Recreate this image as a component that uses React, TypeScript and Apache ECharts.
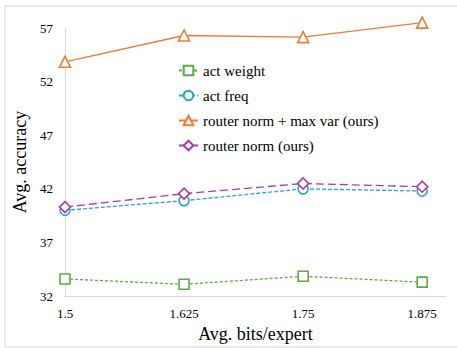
import React, { useEffect, useRef } from "react";
import * as echarts from "echarts";

const bits = [1.5, 1.625, 1.75, 1.875];
const actWeight = [33.6, 33.1, 33.85, 33.3];
const actFreq = [40.0, 40.9, 42.0, 41.8];
const routerNormMaxVar = [53.85, 56.3, 56.15, 57.5];
const routerNorm = [40.3, 41.55, 42.5, 42.2];
const seriesNames = [
  "act weight",
  "act freq",
  "router norm + max var (ours)",
  "router norm (ours)",
];

const FONT = "Liberation Serif";

export default function App() {
  const ref = useRef<HTMLDivElement>(null);
  useEffect(() => {
    document.body.style.margin = "0";
    const chart = echarts.init(ref.current!, null, { renderer: "svg" });
    const mk = (
      name: string,
      vals: number[],
      color: string,
      symbol: string,
      size: number,
      dash: any
    ) => ({
      name,
      type: "line",
      data: bits.map((b, i) => [b, vals[i]]),
      symbol,
      symbolSize: size,
      showAllSymbol: true,
      clip: false,
      lineStyle: { color, width: 1.3, type: dash },
      itemStyle: { color: "#fff", borderColor: color, borderWidth: 1.6 },
    });
    chart.setOption({
      animation: false,
      backgroundColor: "#fff",
      textStyle: { fontFamily: FONT, color: "#000" },
      graphic: [
        {
          type: "rect",
          shape: { x: 5, y: 6, width: 470, height: 341 },
          style: { fill: "none", stroke: "#d6d6d6", lineWidth: 1 },
          silent: true,
        },
      ],
      grid: { left: 65, right: 11, top: 28, bottom: 50 },
      legend: {
        orient: "vertical",
        left: 178,
        top: 63,
        padding: 0,
        itemWidth: 19,
        itemHeight: 12,
        itemGap: 10,
        textStyle: { fontFamily: FONT, fontSize: 15, color: "#000" },
        data: seriesNames,
      },
      xAxis: {
        type: "value",
        min: 1.5,
        max: 1.9,
        interval: 0.125,
        splitLine: { show: false },
        axisTick: { show: false },
        axisLine: { lineStyle: { color: "#d9d9d9", width: 1 } },
        axisLabel: {
          showMaxLabel: false,
          margin: 11,
          color: "#000",
          fontFamily: FONT,
          fontSize: 13,
          formatter: (v: number) =>
            bits.some((b) => Math.abs(b - v) < 1e-6) ? String(v) : "",
        },
        name: "Avg. bits/expert",
        nameLocation: "middle",
        nameGap: 25,
        nameTextStyle: { fontFamily: FONT, fontSize: 18, color: "#000" },
      },
      yAxis: {
        type: "value",
        min: 32,
        max: 57,
        interval: 5,
        splitLine: { show: false },
        axisTick: { show: false },
        axisLine: { show: true, lineStyle: { color: "#d9d9d9", width: 1 } },
        axisLabel: {
          margin: 12,
          color: "#000",
          fontFamily: FONT,
          fontSize: 13,
        },
        name: "Avg. accuracy",
        nameLocation: "middle",
        nameGap: 36,
        nameTextStyle: { fontFamily: FONT, fontSize: 18, color: "#000" },
      },
      series: [
        mk(seriesNames[0], actWeight, "#5aad44", "rect", 10, [3, 2]),
        mk(seriesNames[1], actFreq, "#2ba3da", "circle", 10, [4, 2]),
        mk(seriesNames[2], routerNormMaxVar, "#ef7a3a", "triangle", 11, "solid"),
        mk(seriesNames[3], routerNorm, "#a53c9f", "diamond", 11, [8, 4]),
      ],
    });
    return () => chart.dispose();
  }, []);
  return (
    <div
      ref={ref}
      style={{ position: "absolute", left: 0, top: 0, width: 457, height: 348 }}
    />
  );
}
